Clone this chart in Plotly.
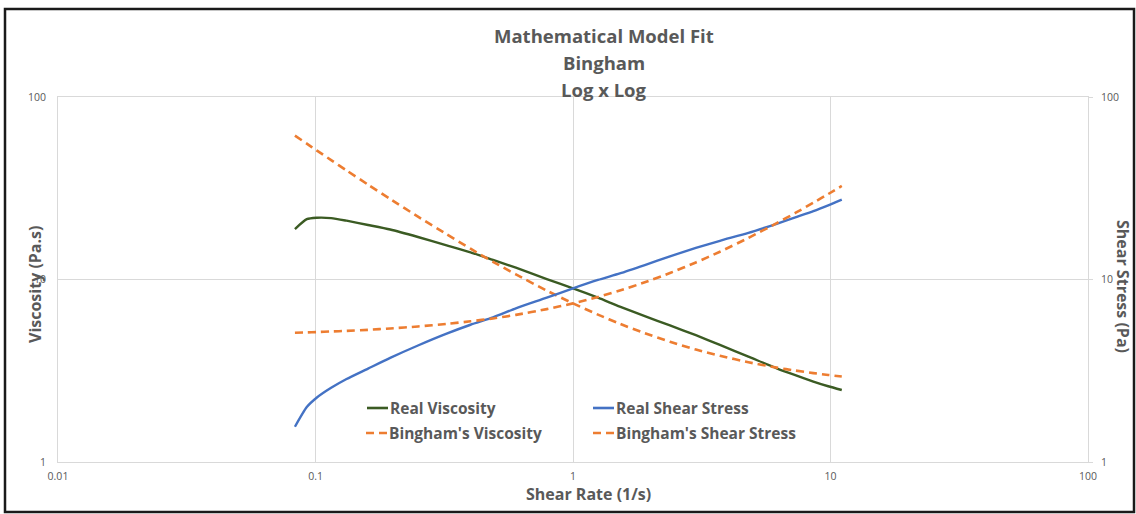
import plotly.graph_objects as go

# Shear rate sweep (1/s) and the measured / fitted curves
shear_rate = [0.0832, 0.0925, 0.101, 0.115, 0.132, 0.16, 0.195, 0.25, 0.323, 0.4,
              0.489, 0.6, 0.791, 1.0, 1.25, 1.52, 1.9, 2.38, 3.0, 3.72,
              4.8, 6.18, 7.3, 8.58, 9.8, 11.06]

real_viscosity = [18.9, 21.4, 21.8, 21.7, 21.0, 19.9, 18.8, 17.1, 15.4, 14.1,
                  12.8, 11.6, 10.05, 8.95, 7.95, 7.1, 6.3, 5.6, 4.95, 4.38,
                  3.78, 3.26, 2.99, 2.76, 2.6, 2.48]

real_shear_stress = [1.56, 2.0, 2.25, 2.55, 2.85, 3.25, 3.72, 4.35, 5.05, 5.65,
                     6.2, 6.95, 7.95, 8.95, 9.95, 10.8, 12.0, 13.4, 14.9, 16.3,
                     18.0, 20.2, 21.9, 23.7, 25.5, 27.4]

bingham_viscosity = [61.4, 55.5, 51.0, 45.1, 39.6, 33.1, 27.6, 22.1, 17.7, 14.75,
                     12.5, 10.67, 8.69, 7.4, 6.42, 5.72, 5.08, 4.56, 4.13, 3.82,
                     3.52, 3.29, 3.17, 3.07, 3.0, 2.94]

bingham_shear_stress = [5.11, 5.13, 5.15, 5.19, 5.23, 5.3, 5.39, 5.53, 5.71, 5.9,
                        6.12, 6.4, 6.88, 7.4, 8.03, 8.7, 9.65, 10.85, 12.4, 14.2,
                        16.9, 20.35, 23.15, 26.35, 29.4, 32.55]

x_tick_vals = [0.01, 0.1, 1, 10, 100]
x_tick_text = ["0.01", "0.1", "1", "10", "100"]
y_tick_vals = [1, 10, 100]
y_tick_text = ["1", "10", "100"]

title_lines = ["Mathematical Model Fit", "Bingham", "Log x Log"]

GREEN = "#3B5B23"
BLUE = "#4472C4"
ORANGE = "#ED7D31"
TEXT = "#595959"
GRID = "#D9D9D9"
FONT = "Open Sans"

# Pixel geometry of the plotting area inside the 1136 x 514 canvas
W, H = 1136, 514
L, R, T, B = 58, 1088, 97, 462


def px(xp):
    return (xp - L) / (R - L)


def py(yp):
    return (B - yp) / (B - T)


fig = go.Figure()
fig.add_trace(go.Scatter(x=shear_rate, y=real_viscosity, name="Real Viscosity",
                         mode="lines", yaxis="y",
                         line=dict(color=GREEN, width=2.4, shape="spline", smoothing=0.6)))
fig.add_trace(go.Scatter(x=shear_rate, y=real_shear_stress, name="Real Shear Stress",
                         mode="lines", yaxis="y2",
                         line=dict(color=BLUE, width=2.4, shape="spline", smoothing=0.6)))
fig.add_trace(go.Scatter(x=shear_rate, y=bingham_viscosity, name="Bingham's Viscosity",
                         mode="lines", yaxis="y",
                         line=dict(color=ORANGE, width=2.6, dash="8px,5px",
                                   shape="spline", smoothing=0.6)))
fig.add_trace(go.Scatter(x=shear_rate, y=bingham_shear_stress, name="Bingham's Shear Stress",
                         mode="lines", yaxis="y2",
                         line=dict(color=ORANGE, width=2.6, dash="8px,5px",
                                   shape="spline", smoothing=0.6)))

tick_font = dict(family=FONT, size=10.5, color=TEXT)

fig.update_layout(
    width=W, height=H,
    margin=dict(l=L, r=W - R, t=T, b=H - B),
    paper_bgcolor="white", plot_bgcolor="white",
    showlegend=False,
    xaxis=dict(type="log", range=[-2, 2], tickvals=x_tick_vals, ticktext=x_tick_text,
               showgrid=True, gridcolor=GRID, gridwidth=1,
               showline=True, linecolor=GRID, linewidth=1, mirror=True,
               zeroline=False, ticks="", ticklabelstandoff=4, tickfont=tick_font),
    yaxis=dict(type="log", range=[0, 2], tickvals=y_tick_vals, ticktext=y_tick_text,
               showgrid=True, gridcolor=GRID, gridwidth=1,
               showline=True, linecolor=GRID, linewidth=1,
               zeroline=False, ticks="", ticklabelstandoff=9, tickfont=tick_font),
    yaxis2=dict(type="log", range=[0, 2], tickvals=y_tick_vals, ticktext=y_tick_text,
                overlaying="y", side="right", showgrid=False,
                showline=True, linecolor=GRID, linewidth=1,
                zeroline=False, ticks="outside", ticklen=4, tickcolor=GRID,
                ticklabelstandoff=6, tickfont=tick_font),
)

annotations = []
# Chart title, one annotation per line
for text, yp in zip(title_lines, [35, 62, 89]):
    annotations.append(dict(text=f"<b>{text}</b>", x=px(604), y=py(yp),
                            xref="paper", yref="paper", xanchor="center", yanchor="middle",
                            showarrow=False, font=dict(family=FONT, size=18.5, color=TEXT)))

axis_title_font = dict(family=FONT, size=16, color=TEXT)
annotations.append(dict(text="<b>Shear Rate (1/s)</b>", x=px(588), y=py(494),
                        xref="paper", yref="paper", xanchor="center", yanchor="middle",
                        showarrow=False, font=axis_title_font))
annotations.append(dict(text="<b>Viscosity (Pa.s)</b>", x=px(35), y=py(285),
                        xref="paper", yref="paper", xanchor="center", yanchor="middle",
                        textangle=-90, showarrow=False, font=axis_title_font))
annotations.append(dict(text="<b>Shear Stress (Pa)</b>", x=px(1123), y=py(286),
                        xref="paper", yref="paper", xanchor="center", yanchor="middle",
                        textangle=90, showarrow=False, font=axis_title_font))

# Legend drawn in two columns inside the plot
legend_font = dict(family=FONT, size=15.5, color=TEXT)
legend_items = [
    ("Real Viscosity", GREEN, "solid", 367, 408),
    ("Real Shear Stress", BLUE, "solid", 593, 408),
    ("Bingham's Viscosity", ORANGE, "8px,5px", 366, 433),
    ("Bingham's Shear Stress", ORANGE, "8px,5px", 593, 433),
]
shapes = []
for name, color, dash, x0, yp in legend_items:
    shapes.append(dict(type="line", xref="paper", yref="paper",
                       x0=px(x0), x1=px(x0 + 21), y0=py(yp), y1=py(yp),
                       line=dict(color=color, width=2.6, dash=dash)))
    annotations.append(dict(text=f"<b>{name}</b>", x=px(x0 + 21), y=py(yp),
                            xref="paper", yref="paper", xanchor="left", yanchor="middle",
                            showarrow=False, font=legend_font))

# Outer frame around the whole chart
shapes.append(dict(type="rect", xref="paper", yref="paper",
                   x0=px(5), x1=px(1134), y0=py(512), y1=py(9),
                   line=dict(color="#1A1A1A", width=2.5), fillcolor="rgba(0,0,0,0)",
                   layer="above"))

fig.update_layout(annotations=annotations, shapes=shapes)

fig.write_html("out.html")
